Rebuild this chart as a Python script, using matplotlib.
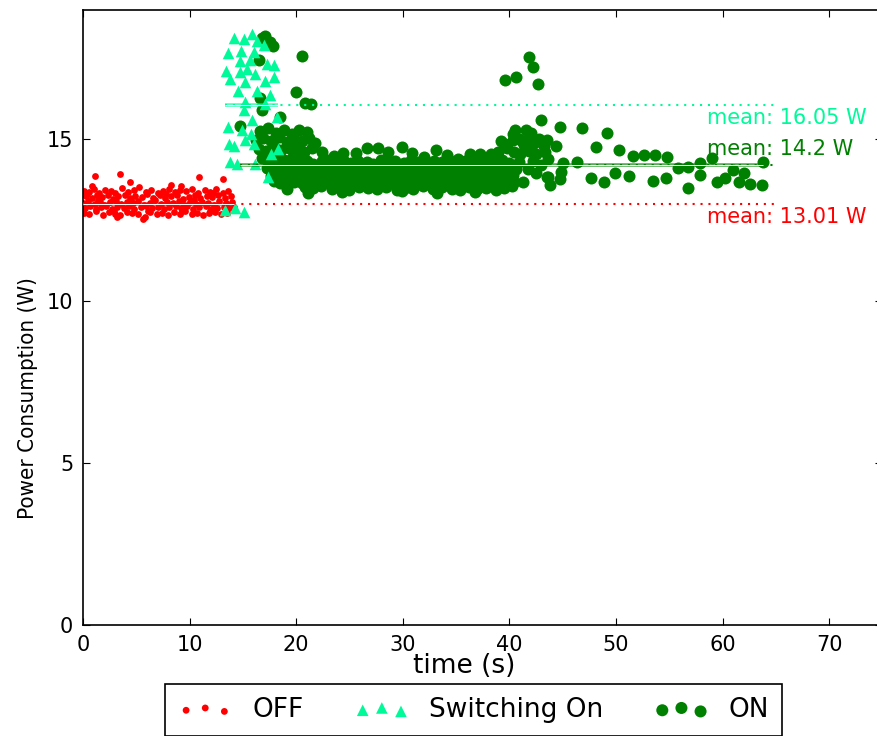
import matplotlib
matplotlib.use("Agg")
import matplotlib.pyplot as plt

# OFF state samples (time s, power W)
off_pts = [
    (0.1,13.42),(0.6,13.38),(1.0,13.47),(1.5,13.36),(2.1,13.44),(2.6,13.40),(3.0,13.35),(3.7,13.49),(4.2,13.37),
    (4.8,13.43),(5.3,13.52),(5.9,13.39),(6.4,13.45),(7.0,13.36),(7.5,13.41),(8.1,13.48),(8.6,13.37),(9.1,13.44),
    (9.7,13.40),(10.2,13.46),(10.8,13.35),(11.4,13.43),(11.9,13.38),(12.5,13.47),(13.1,13.36),(13.6,13.40),
    (0.3,13.25),(0.8,13.18),(1.3,13.28),(1.8,13.21),(2.3,13.30),(2.8,13.17),(3.3,13.24),(3.9,13.29),(4.4,13.19),
    (4.9,13.26),(5.5,13.22),(6.0,13.31),(6.6,13.18),(7.2,13.27),(7.7,13.20),(8.3,13.25),(8.8,13.30),(9.4,13.16),
    (9.9,13.23),(10.5,13.28),(11.0,13.19),(11.6,13.26),(12.1,13.22),(12.7,13.29),(13.3,13.18),(13.9,13.24),
    (0.0,13.05),(0.5,13.10),(1.1,13.02),(1.6,13.08),(2.0,12.99),(2.5,13.06),(3.1,13.11),(3.6,13.01),(4.1,13.07),
    (4.7,13.03),(5.2,13.09),(5.7,12.98),(6.3,13.05),(6.8,13.12),(7.3,13.00),(7.9,13.06),(8.4,13.04),(9.0,13.10),
    (9.5,12.99),(10.0,13.07),(10.6,13.02),(11.2,13.08),(11.7,13.05),(12.3,12.98),(12.8,13.09),(13.4,13.03),(14.0,13.06),
    (0.2,12.88),(0.7,12.93),(1.2,12.85),(1.7,12.91),(2.2,12.96),(2.7,12.86),(3.2,12.92),(3.8,12.89),(4.3,12.95),
    (4.8,12.84),(5.4,12.90),(5.9,12.94),(6.5,12.87),(7.0,12.92),(7.6,12.85),(8.1,12.91),(8.7,12.96),(9.2,12.88),
    (9.8,12.93),(10.3,12.86),(10.9,12.90),(11.5,12.95),(12.0,12.84),(12.6,12.89),(13.2,12.92),(13.7,12.87),(14.2,12.91),
    (0.1,12.74),(0.6,12.70),(1.2,12.78),(1.9,12.68),(2.4,12.75),(3.0,12.71),(3.5,12.66),(4.1,12.77),(4.6,12.72),
    (5.2,12.69),(5.8,12.62),(6.3,12.76),(6.9,12.70),(7.4,12.73),(8.0,12.67),(8.5,12.75),(9.1,12.71),(9.6,12.78),
    (10.2,12.69),(10.7,12.74),(11.3,12.66),(11.8,12.72),(12.4,12.76),(12.9,12.70),(13.5,12.73),
    (0.4,13.32),(1.4,13.12),(2.9,12.80),(4.5,13.14),(6.1,12.80),(7.8,13.33),(9.3,12.80),(10.4,13.14),
    (11.9,12.80),(12.2,13.34),(1.1,13.87),(3.5,13.92),(4.4,13.68),(10.9,13.84),(13.1,13.77),(8.3,13.58),
    (9.2,13.55),(0.8,13.55),(5.6,12.55),(3.2,12.60),
]

# switching on samples
sw_pts = [
    (14.2,18.14),(15.1,18.09),(15.9,18.25),(16.3,18.03),(17.0,17.93),(13.6,17.66),(14.8,17.73),(16.0,17.70),
    (14.7,17.42),(15.7,17.44),(17.3,17.33),(17.9,17.30),(13.4,17.13),(14.7,17.08),(15.4,17.18),(16.1,17.03),
    (13.8,16.87),(15.2,16.77),(17.1,16.82),(17.9,16.94),(14.5,16.49),(16.3,16.51),(17.5,16.36),(15.2,16.15),
    (17.1,16.10),(15.1,15.90),(15.9,15.59),(13.6,15.38),(14.9,15.28),(15.8,15.17),(18.2,15.69),(13.7,14.86),
    (14.2,14.81),(15.2,14.97),(16.0,14.86),(18.3,14.71),(17.6,14.54),(13.8,14.30),(14.4,14.25),(16.1,14.25),
    (17.4,13.84),(13.3,12.81),(15.1,12.76),(14.3,12.87),
]

# ON state samples
on_pts = [
    # early peak
    (17.1,18.21),(17.5,18.00),(16.8,18.12),(17.8,17.90),(16.5,17.44),(20.5,17.59),(20.0,16.48),(16.6,16.28),
    (16.8,15.90),(20.8,16.12),(21.4,16.10),(18.5,15.69),(14.7,15.43),
    (16.6,15.25),(17.4,15.35),(18.1,15.20),(18.9,15.30),(19.6,15.18),(20.3,15.28),(21.0,15.22),
    (16.2,14.98),(16.9,15.05),(17.6,14.95),(18.4,15.08),(19.1,14.92),(19.8,15.02),(20.5,14.96),(21.2,15.04),(21.8,14.90),
    (16.5,14.72),(17.2,14.65),(17.9,14.78),(18.6,14.68),(19.3,14.75),(20.0,14.70),(20.7,14.62),(21.5,14.74),
    (16.8,14.42),(17.5,14.35),(18.2,14.45),(18.9,14.38),(19.6,14.44),(20.3,14.36),
    # steady band
    (18.2,14.31),(18.9,14.27),(19.5,14.36),(20.3,14.29),(21.0,14.34),(21.6,14.25),(22.4,14.32),(23.0,14.38),
    (23.7,14.28),(24.5,14.33),(25.1,14.26),(25.8,14.35),(26.6,14.30),(27.2,14.24),(28.0,14.37),(28.7,14.29),
    (29.3,14.33),(30.1,14.27),(30.8,14.36),(31.5,14.31),(32.2,14.25),(32.9,14.34),(33.7,14.29),(34.3,14.38),
    (35.0,14.26),(35.8,14.32),(36.5,14.35),(37.1,14.28),(37.9,14.33),(38.6,14.30),(39.3,14.36),(40.0,14.27),
    (17.3,14.12),(17.9,14.05),(18.6,14.15),(19.2,14.08),(19.9,14.02),(20.6,14.13),(21.2,14.07),(21.9,14.16),
    (22.6,14.04),(23.3,14.11),(23.9,14.06),(24.6,14.14),(25.3,14.03),(25.9,14.10),(26.6,14.17),(27.3,14.05),
    (28.0,14.12),(28.6,14.08),(29.3,14.15),(29.9,14.02),(30.6,14.10),(31.3,14.06),(32.0,14.14),(32.6,14.09),
    (33.3,14.03),(34.0,14.12),(34.6,14.07),(35.3,14.16),(36.0,14.04),(36.6,14.11),(37.3,14.06),(38.0,14.13),
    (38.6,14.08),(39.3,14.15),(40.0,14.05),(40.6,14.10),
    (17.6,13.88),(18.2,13.94),(18.9,13.85),(19.6,13.92),(20.2,13.87),(20.9,13.96),(21.5,13.84),(22.2,13.91),
    (22.9,13.86),(23.6,13.95),(24.2,13.89),(24.9,13.83),(25.6,13.93),(26.2,13.88),(26.9,13.94),(27.6,13.85),
    (28.3,13.91),(28.9,13.87),(29.6,13.95),(30.3,13.84),(30.9,13.90),(31.6,13.86),(32.3,13.93),(32.9,13.88),
    (33.6,13.84),(34.3,13.92),(34.9,13.87),(35.6,13.95),(36.3,13.85),(36.9,13.91),(37.6,13.88),(38.3,13.94),
    (38.9,13.86),(39.6,13.92),(40.3,13.89),
    (17.9,13.72),(18.5,13.66),(19.2,13.75),(19.8,13.69),(20.5,13.64),(21.2,13.73),(21.8,13.67),(22.5,13.76),
    (23.2,13.65),(23.8,13.71),(24.5,13.68),(25.2,13.74),(25.8,13.63),(26.5,13.70),(27.1,13.66),(27.8,13.75),
    (28.5,13.68),(29.1,13.64),(29.8,13.72),(30.5,13.67),(31.1,13.74),(31.8,13.65),(32.5,13.70),(33.1,13.76),
    (33.8,13.66),(34.5,13.71),(35.1,13.64),(35.8,13.73),(36.5,13.68),(37.1,13.75),(37.8,13.65),(38.5,13.70),
    (39.1,13.67),(39.8,13.74),(40.4,13.69),
    (19.1,13.47),(20.8,13.53),(21.6,13.50),(22.3,13.55),(23.4,13.48),(24.0,13.52),(25.0,13.45),(25.9,13.54),
    (26.7,13.49),(27.6,13.46),(28.4,13.53),(29.5,13.44),(30.2,13.51),(31.0,13.47),(31.9,13.55),(32.8,13.46),
    (33.7,13.52),(34.6,13.48),(35.4,13.43),(36.2,13.53),(37.0,13.47),(37.8,13.51),(38.7,13.45),(39.5,13.50),
    (40.2,13.55),(21.1,13.36),(24.3,13.38),(29.9,13.40),(33.2,13.36),(36.8,13.39),
    (22.4,14.62),(23.5,14.50),(24.4,14.57),(25.6,14.58),(26.6,14.75),(27.7,14.75),(28.6,14.61),(29.9,14.78),
    (30.9,14.58),(32.0,14.46),(33.1,14.68),(34.1,14.51),(35.2,14.40),(36.3,14.56),(37.2,14.56),(38.3,14.56),
    # second bump around 40 s
    (37.6,14.42),(38.5,14.50),(38.9,14.62),(39.2,14.95),(39.6,14.87),(39.8,14.75),(40.3,14.97),(40.3,15.18),
    (40.5,15.29),(40.4,14.60),(40.9,15.00),(41.0,14.55),(41.2,14.95),(41.4,14.82),(41.6,15.28),(41.8,14.65),
    (41.9,15.05),(42.0,15.20),(42.3,14.90),(42.5,14.55),(42.8,15.02),(43.2,14.80),(43.3,14.60),(43.5,14.97),
    (43.6,14.40),(44.4,14.81),(43.0,14.20),(41.3,13.68),(43.5,13.84),(44.8,14.01),(42.2,14.35),(40.9,14.30),
    (41.7,14.10),(42.5,13.95),
    (39.6,16.85),(40.6,16.94),(41.8,17.56),(42.2,17.23),(42.7,16.72),
    # tail
    (43.0,15.60),(44.7,15.40),(46.8,15.35),(49.2,15.20),(48.1,14.76),(50.3,14.66),(47.7,13.81),(48.9,13.70),
    (49.9,13.97),(51.2,13.86),(46.3,14.30),(45.0,14.28),(43.6,13.84),(43.8,13.58),(44.7,13.78),(51.6,14.49),
    (52.6,14.51),(53.7,14.51),(54.8,14.46),(53.5,13.73),(54.7,13.81),(55.8,14.12),(56.8,14.14),(56.8,13.50),
    (57.9,13.89),(57.9,14.27),(59.0,14.43),(59.5,13.68),(60.2,13.81),(61.0,14.06),(62.0,13.97),(61.5,13.70),
    (62.6,13.63),(63.7,13.60),(63.8,14.30),
]

mean_off = 13.01
mean_sw = 16.05
mean_on = 14.2

red = '#ff0000'
spring = '#00fa9a'
green = '#008000'

fig = plt.figure(figsize=(8.78, 7.36), dpi=100)
ax = fig.add_axes([83/878, 111/736, 799.5/878, 615/736])

off_t, off_p = zip(*off_pts)
sw_t, sw_p = zip(*sw_pts)
on_t, on_p = zip(*on_pts)

h_off = ax.scatter(off_t, off_p, s=24, c=red, marker='o', linewidths=0, zorder=2, label='OFF')
h_on = ax.scatter(on_t, on_p, s=75, c=green, marker='o', linewidths=0, zorder=2, label='ON')
h_sw = ax.scatter(sw_t, sw_p, s=70, c=spring, marker='^', linewidths=0, zorder=3, label='Switching On')

# mean lines: solid over the state's own span, dotted to 65 s
for lo, hi, m, col in [(min(off_t), max(off_t), mean_off, red),
                       (min(sw_t), max(sw_t), mean_sw, spring),
                       (min(on_t), max(on_t), mean_on, green)]:
    ax.plot([lo, 65], [m, m], color=col, lw=1.5, ls=(0, (1, 2.8)), zorder=4)
    ax.plot([lo, hi], [m, m], color=col, lw=2.6, alpha=0.65, zorder=5, solid_capstyle='butt')
    ax.plot([lo, hi], [m, m], color='white', lw=0.7, zorder=6, solid_capstyle='butt')

ax.text(58.5, mean_sw - 0.4, 'mean: %.2f W' % mean_sw, color=spring, fontsize=15, va='center')
ax.text(58.5, mean_on + 0.52, 'mean: %.1f W' % mean_on, color=green, fontsize=15, va='center')
ax.text(58.5, mean_off - 0.39, 'mean: %.2f W' % mean_off, color=red, fontsize=15, va='center')

ax.set_xlim(0, 75)
ax.set_ylim(0, 19)
ax.set_xticks([0, 10, 20, 30, 40, 50, 60, 70])
ax.set_yticks([0, 5, 10, 15])
ax.tick_params(direction='in', top=True, right=True, length=5, width=0.8, labelsize=15, pad=7)
for sp in ax.spines.values():
    sp.set_linewidth(1.2)

ax.set_xlabel('time (s)', fontsize=19, labelpad=0)
ax.xaxis.set_label_coords((464 - 83) / 799.5, -0.045)
ax.set_ylabel('Power Consumption (W)', fontsize=16, fontstretch='condensed')
ax.yaxis.set_label_coords((38 - 83) / 799.5, (625 - 398.5) / 615)

leg = fig.legend([h_off, h_sw, h_on], ['OFF', 'Switching On', 'ON'], loc='upper left',
                 bbox_to_anchor=(165/878, 1 - 684/736), borderaxespad=0, ncol=3, scatterpoints=3,
                 fontsize=19, fancybox=False, edgecolor='black', framealpha=1,
                 handlelength=2.05, handletextpad=0.75, columnspacing=1.95, borderpad=0.5)
leg.get_frame().set_linewidth(1.2)

fig.savefig('out.png', dpi=100)
